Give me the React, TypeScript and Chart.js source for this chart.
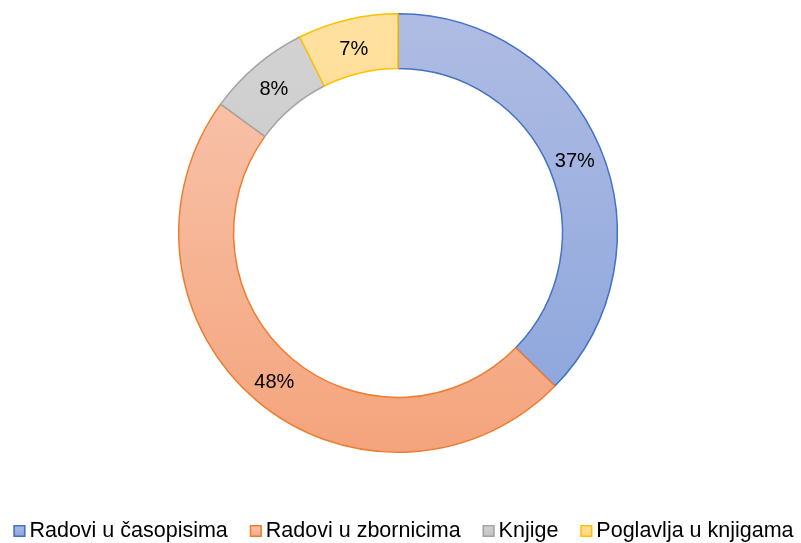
import { useEffect, useRef } from "react";
import { Chart, registerables } from "chart.js";

Chart.register(...registerables);

const categories = ["Radovi u časopisima", "Radovi u zbornicima", "Knjige", "Poglavlja u knjigama"];
const values = [37.3, 47.7, 7.6, 7.4];
const percentLabels = ["37%", "48%", "8%", "7%"];
const borderColors = ["#4472C4", "#ED7D31", "#A5A5A5", "#FFC000"];
const topColors = ["#AFBCE3", "#F9C8B2", "#D3D3D3", "#FFE1A0"];
const bottomColors = ["#8AA4DC", "#F4A47C", "#C2C2C2", "#FFD47E"];

const FONT = '"Liberation Sans", Arial, sans-serif';

const percentPlugin = {
  id: "percentLabels",
  afterDatasetsDraw(chart: any) {
    const meta = chart.getDatasetMeta(0);
    const ctx = chart.ctx;
    ctx.save();
    ctx.font = `20px ${FONT}`;
    ctx.fillStyle = "#000000";
    ctx.textAlign = "center";
    ctx.textBaseline = "middle";
    meta.data.forEach((arc: any, i: number) => {
      const p = arc.tooltipPosition();
      ctx.fillText(percentLabels[i], p.x, p.y + 3);
    });
    ctx.restore();
  },
};

const legendPlugin = {
  id: "bottomLegend",
  afterDraw(chart: any) {
    const ctx = chart.ctx;
    const box = 12;
    const gapBoxText = 4;
    const gapItems = 22;
    const y = 531;
    ctx.save();
    ctx.font = `21.5px ${FONT}`;
    const widths = categories.map((c) => ctx.measureText(c).width);
    const total = widths.reduce((s, w) => s + box + gapBoxText + w, 0) + gapItems * (categories.length - 1);
    let x = 403.5 - total / 2;
    categories.forEach((c, i) => {
      const g = ctx.createLinearGradient(0, y - box / 2, 0, y + box / 2);
      g.addColorStop(0, topColors[i]);
      g.addColorStop(1, bottomColors[i]);
      ctx.fillStyle = g;
      ctx.fillRect(x, y - box / 2, box, box);
      ctx.strokeStyle = borderColors[i];
      ctx.lineWidth = 1.5;
      ctx.strokeRect(x + 0.75, y - box / 2 + 0.75, box - 1.5, box - 1.5);
      ctx.fillStyle = "#000000";
      ctx.textAlign = "left";
      ctx.textBaseline = "middle";
      ctx.fillText(c, x + box + gapBoxText, y);
      x += box + gapBoxText + widths[i] + gapItems;
    });
    ctx.restore();
  },
};

export default function App() {
  const canvasRef = useRef<HTMLCanvasElement | null>(null);

  useEffect(() => {
    const canvas = canvasRef.current;
    if (!canvas) return;
    const chart = new Chart(canvas, {
      type: "doughnut",
      data: {
        labels: categories,
        datasets: [
          {
            data: values,
            backgroundColor: (context: any) => {
              const i = context.dataIndex;
              const c = context.chart;
              const area = c.chartArea;
              if (!area) return topColors[i];
              const g = c.ctx.createLinearGradient(0, area.top, 0, area.bottom);
              g.addColorStop(0, topColors[i]);
              g.addColorStop(1, bottomColors[i]);
              return g;
            },
            borderColor: borderColors,
            borderWidth: 1.5,
            hoverOffset: 0,
          },
        ],
      },
      options: {
        responsive: true,
        maintainAspectRatio: false,
        animation: false,
        cutout: "75%",
        layout: { padding: { top: 13, bottom: 90, left: 0, right: 5 } },
        plugins: {
          legend: { display: false },
          tooltip: { enabled: false },
        },
      },
      plugins: [percentPlugin, legendPlugin],
    });
    return () => chart.destroy();
  }, []);

  return (
    <div style={{ position: "fixed", left: 0, top: 0, width: 801, height: 543, background: "#ffffff" }}>
      <canvas ref={canvasRef} />
    </div>
  );
}
